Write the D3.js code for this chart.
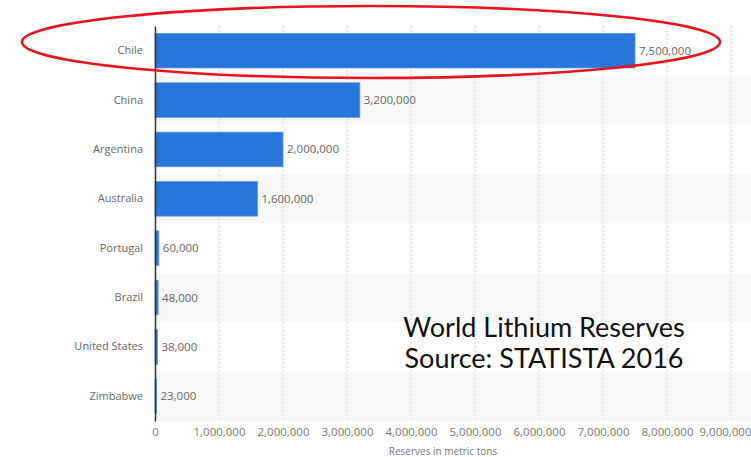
<!DOCTYPE html>
<html><head><meta charset="utf-8">
<script src="https://cdn.jsdelivr.net/npm/d3@7"></script>
<style>body{margin:0;background:#fff;} svg{display:block;}</style>
</head><body>
<svg id="c" width="751" height="457"></svg>
<script>
const countries = ["Chile","China","Argentina","Australia","Portugal","Brazil","United States","Zimbabwe"];
const reserves = [7500000,3200000,2000000,1600000,60000,48000,38000,23000];
const tickValues = [0,1000000,2000000,3000000,4000000,5000000,6000000,7000000,8000000,9000000];
const axisTitle = "Reserves in metric tons";
const noteLines = ["World Lithium Reserves","Source: STATISTA 2016"];

(function(){
const svg = d3.select("#c");
const pL = 155, pR = 731, pT = 26, pB = 421;
const x = d3.scaleLinear().domain([0,9000000]).range([pL,pR]);
const y = d3.scaleBand().domain(countries).range([pT,pB]).paddingInner(0.3).paddingOuter(0.15);
const yRow = d3.scaleBand().domain(countries).range([pT,pB]);
const fmt = d3.format(",");
const font = "'Open Sans', sans-serif";

svg.selectAll("rect.band").data(countries).enter().append("rect")
  .attr("x", pL).attr("width", 751-pL)
  .attr("y", d=>yRow(d)).attr("height", yRow.bandwidth())
  .attr("fill", (d,i)=> i%2 ? "#f7f7f7" : "#fff");

svg.selectAll("line.grid").data(tickValues.slice(1)).enter().append("line")
  .attr("x1", d=>x(d)).attr("x2", d=>x(d)).attr("y1", pT).attr("y2", pB)
  .attr("stroke", "#d6d6d6").attr("stroke-width", 1).attr("stroke-dasharray","2,2");

svg.selectAll("rect.bar").data(countries).enter().append("rect")
  .attr("x", x(0)).attr("y", d=>y(d))
  .attr("width", (d,i)=>x(reserves[i])-x(0)).attr("height", y.bandwidth())
  .attr("fill", "#2876da").attr("stroke","#5c97e3").attr("stroke-width",0.8);

svg.selectAll("text.val").data(countries).enter().append("text")
  .attr("x", (d,i)=>x(reserves[i])+4).attr("y", d=>y(d)+y.bandwidth()/2)
  .attr("dy","0.35em").attr("font-family",font).attr("font-size",11.5)
  .attr("fill","#666").text((d,i)=>fmt(reserves[i]));

const yAxis = d3.axisLeft(yRow).tickSize(0).tickPadding(12);
const gy = svg.append("g").attr("transform",`translate(${pL},0)`).call(yAxis);
gy.select(".domain").attr("stroke","#333").attr("stroke-width",1.5);
gy.selectAll("text").attr("font-family",font).attr("font-size",11).attr("fill","#666");

const xAxis = d3.axisBottom(x).tickValues(tickValues).tickFormat(fmt).tickSize(0).tickPadding(7);
const gx = svg.append("g").attr("transform",`translate(0,${pB})`).call(xAxis);
gx.select(".domain").remove();
gx.selectAll("text").attr("font-family",font).attr("font-size",11.5).attr("fill","#777");
gx.selectAll(".tick").filter(d=>d===9000000).select("text")
  .attr("text-anchor","end").attr("x", 751 - x(9000000));

svg.append("text").attr("x",(pL+pR)/2).attr("y",455).attr("text-anchor","middle")
  .attr("font-family",font).attr("font-size",10).attr("fill","#777").text(axisTitle);

svg.selectAll("text.note").data(noteLines).enter().append("text")
  .attr("x",544).attr("y",(d,i)=>337+i*31).attr("text-anchor","middle")
  .attr("font-family","Lato, 'Open Sans', sans-serif").attr("font-size",27).attr("fill","#111")
  .text(d=>d);

svg.append("ellipse").attr("cx",371).attr("cy",42).attr("rx",349).attr("ry",36)
  .attr("fill","none").attr("stroke","#e8141b").attr("stroke-width",2.6);
})();
</script>
</body></html>
